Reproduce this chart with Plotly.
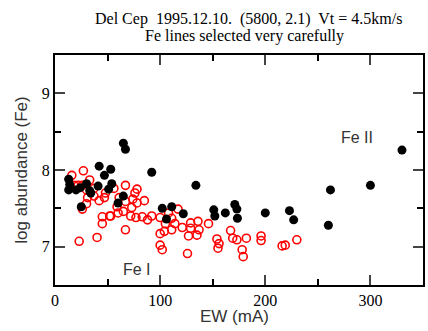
import plotly.graph_objects as go

# Black filled points (EW in mA, log abundance)
black_ew = [13, 14, 13, 20, 24, 30, 33, 34, 41, 42, 47, 53, 54, 51, 25, 65, 67, 65, 60, 92,
            102, 111, 106, 122, 134, 151, 152, 162, 171, 173, 173.5, 200, 223, 227, 260, 262, 300, 330]
black_ab = [7.88, 7.81, 7.74, 7.74, 7.77, 7.82, 7.73, 7.70, 7.79, 8.05, 7.93, 8.01, 7.82, 7.75, 7.52, 8.35, 8.27, 7.66, 7.57, 7.97,
            7.50, 7.52, 7.36, 7.43, 7.80, 7.48, 7.40, 7.44, 7.55, 7.49, 7.37, 7.44, 7.47, 7.35, 7.28, 7.74, 7.80, 8.26]

# Red open circles
red_ew = [16, 27, 33, 18, 22, 26, 30, 37, 31, 37, 42, 47, 30, 26, 45, 45, 52, 23, 40,
          67, 78, 76, 56, 48, 61, 74, 85, 78, 67, 59, 73, 65, 60, 53, 72, 77, 83, 88, 92, 100, 67, 100, 100, 102,
          117, 108, 111, 105, 114, 121, 129, 129, 136, 137, 135, 127, 146, 104, 111, 126, 154, 156, 155, 167, 169,
          173, 182, 178, 179, 196, 196, 216, 219, 230]
red_ab = [7.93, 7.99, 7.87, 7.80, 7.80, 7.80, 7.74, 7.76, 7.64, 7.66, 7.60, 7.64, 7.56, 7.49, 7.39, 7.30, 7.40, 7.07, 7.12,
          7.80, 7.75, 7.70, 7.76, 7.70, 7.64, 7.62, 7.60, 7.57, 7.59, 7.52, 7.51, 7.46, 7.44, 7.40, 7.40, 7.38, 7.39, 7.35, 7.40, 7.38, 7.22, 7.17, 7.02, 6.96,
          7.49, 7.44, 7.37, 7.30, 7.30, 7.25, 7.31, 7.24, 7.33, 7.22, 7.15, 7.14, 7.30, 7.20, 7.22, 6.91, 7.10, 7.04, 6.98, 7.21, 7.11,
          7.09, 7.11, 6.96, 6.87, 7.14, 7.08, 7.01, 7.02, 7.09]

x_ticks = [0, 100, 200, 300]
y_ticks = [7, 8, 9]

title_line1 = "Del Cep  1995.12.10.  (5800, 2.1)  Vt = 4.5km/s"
title_line2 = "Fe lines selected very carefully"

fig = go.Figure()
fig.add_trace(go.Scatter(x=red_ew, y=red_ab, mode="markers",
                         marker=dict(symbol="circle-open", size=8, color="red", line=dict(width=1.6, color="red")),
                         showlegend=False))
fig.add_trace(go.Scatter(x=black_ew, y=black_ab, mode="markers",
                         marker=dict(symbol="circle", size=9, color="black"),
                         showlegend=False))

fig.add_annotation(x=287, y=8.43, text="Fe II", showarrow=False,
                   font=dict(family="Liberation Sans", size=16, color="#333"))
fig.add_annotation(x=78, y=6.70, text="Fe I", showarrow=False,
                   font=dict(family="Liberation Sans", size=16, color="#333"))

serif = "Liberation Serif, Times New Roman, serif"
fig.add_annotation(xref="paper", yref="paper", x=0.527, y=1 + (55 - 19) / 230, text=title_line1, showarrow=False,
                   xanchor="center", yanchor="middle", font=dict(family=serif, size=16, color="black"))
fig.add_annotation(xref="paper", yref="paper", x=0.515, y=1 + (55 - 36) / 230, text=title_line2, showarrow=False,
                   xanchor="center", yanchor="middle", font=dict(family=serif, size=16, color="black"))
fig.add_annotation(xref="paper", yref="paper", x=(235 - 55) / 370, y=1 + (55 - 316) / 230, text="EW (mA)",
                   showarrow=False, xanchor="center", yanchor="middle",
                   font=dict(family="Liberation Sans", size=17, color="#333"))

fig.update_layout(
    width=428, height=331,
    margin=dict(l=55, r=3, t=55, b=46),
    paper_bgcolor="white", plot_bgcolor="white",
)
fig.update_xaxes(range=[0, 350], tickvals=x_ticks, ticks="inside", ticklen=10, tickwidth=1.5,
                 showline=True, linewidth=2, linecolor="black", mirror="ticks", showgrid=False, zeroline=False,
                 minor=dict(tickvals=[50, 150, 250], ticks="inside", ticklen=6, tickwidth=1.5, tickcolor="black", showgrid=False),
                 tickfont=dict(family=serif, size=16, color="black"))
fig.update_yaxes(range=[6.5, 9.5], tickvals=y_ticks, ticks="inside", ticklen=10, tickwidth=1.5,
                 showline=True, linewidth=2, linecolor="black", mirror="ticks", showgrid=False, zeroline=False,
                 minor=dict(tickvals=[7.5, 8.5], ticks="inside", ticklen=6, tickwidth=1.5, tickcolor="black", showgrid=False),
                 tickfont=dict(family=serif, size=16, color="black"),
                 title=dict(text="log abundance (Fe)", font=dict(family="Liberation Sans", size=17, color="#333"), standoff=10))

fig.write_html("out.html")
